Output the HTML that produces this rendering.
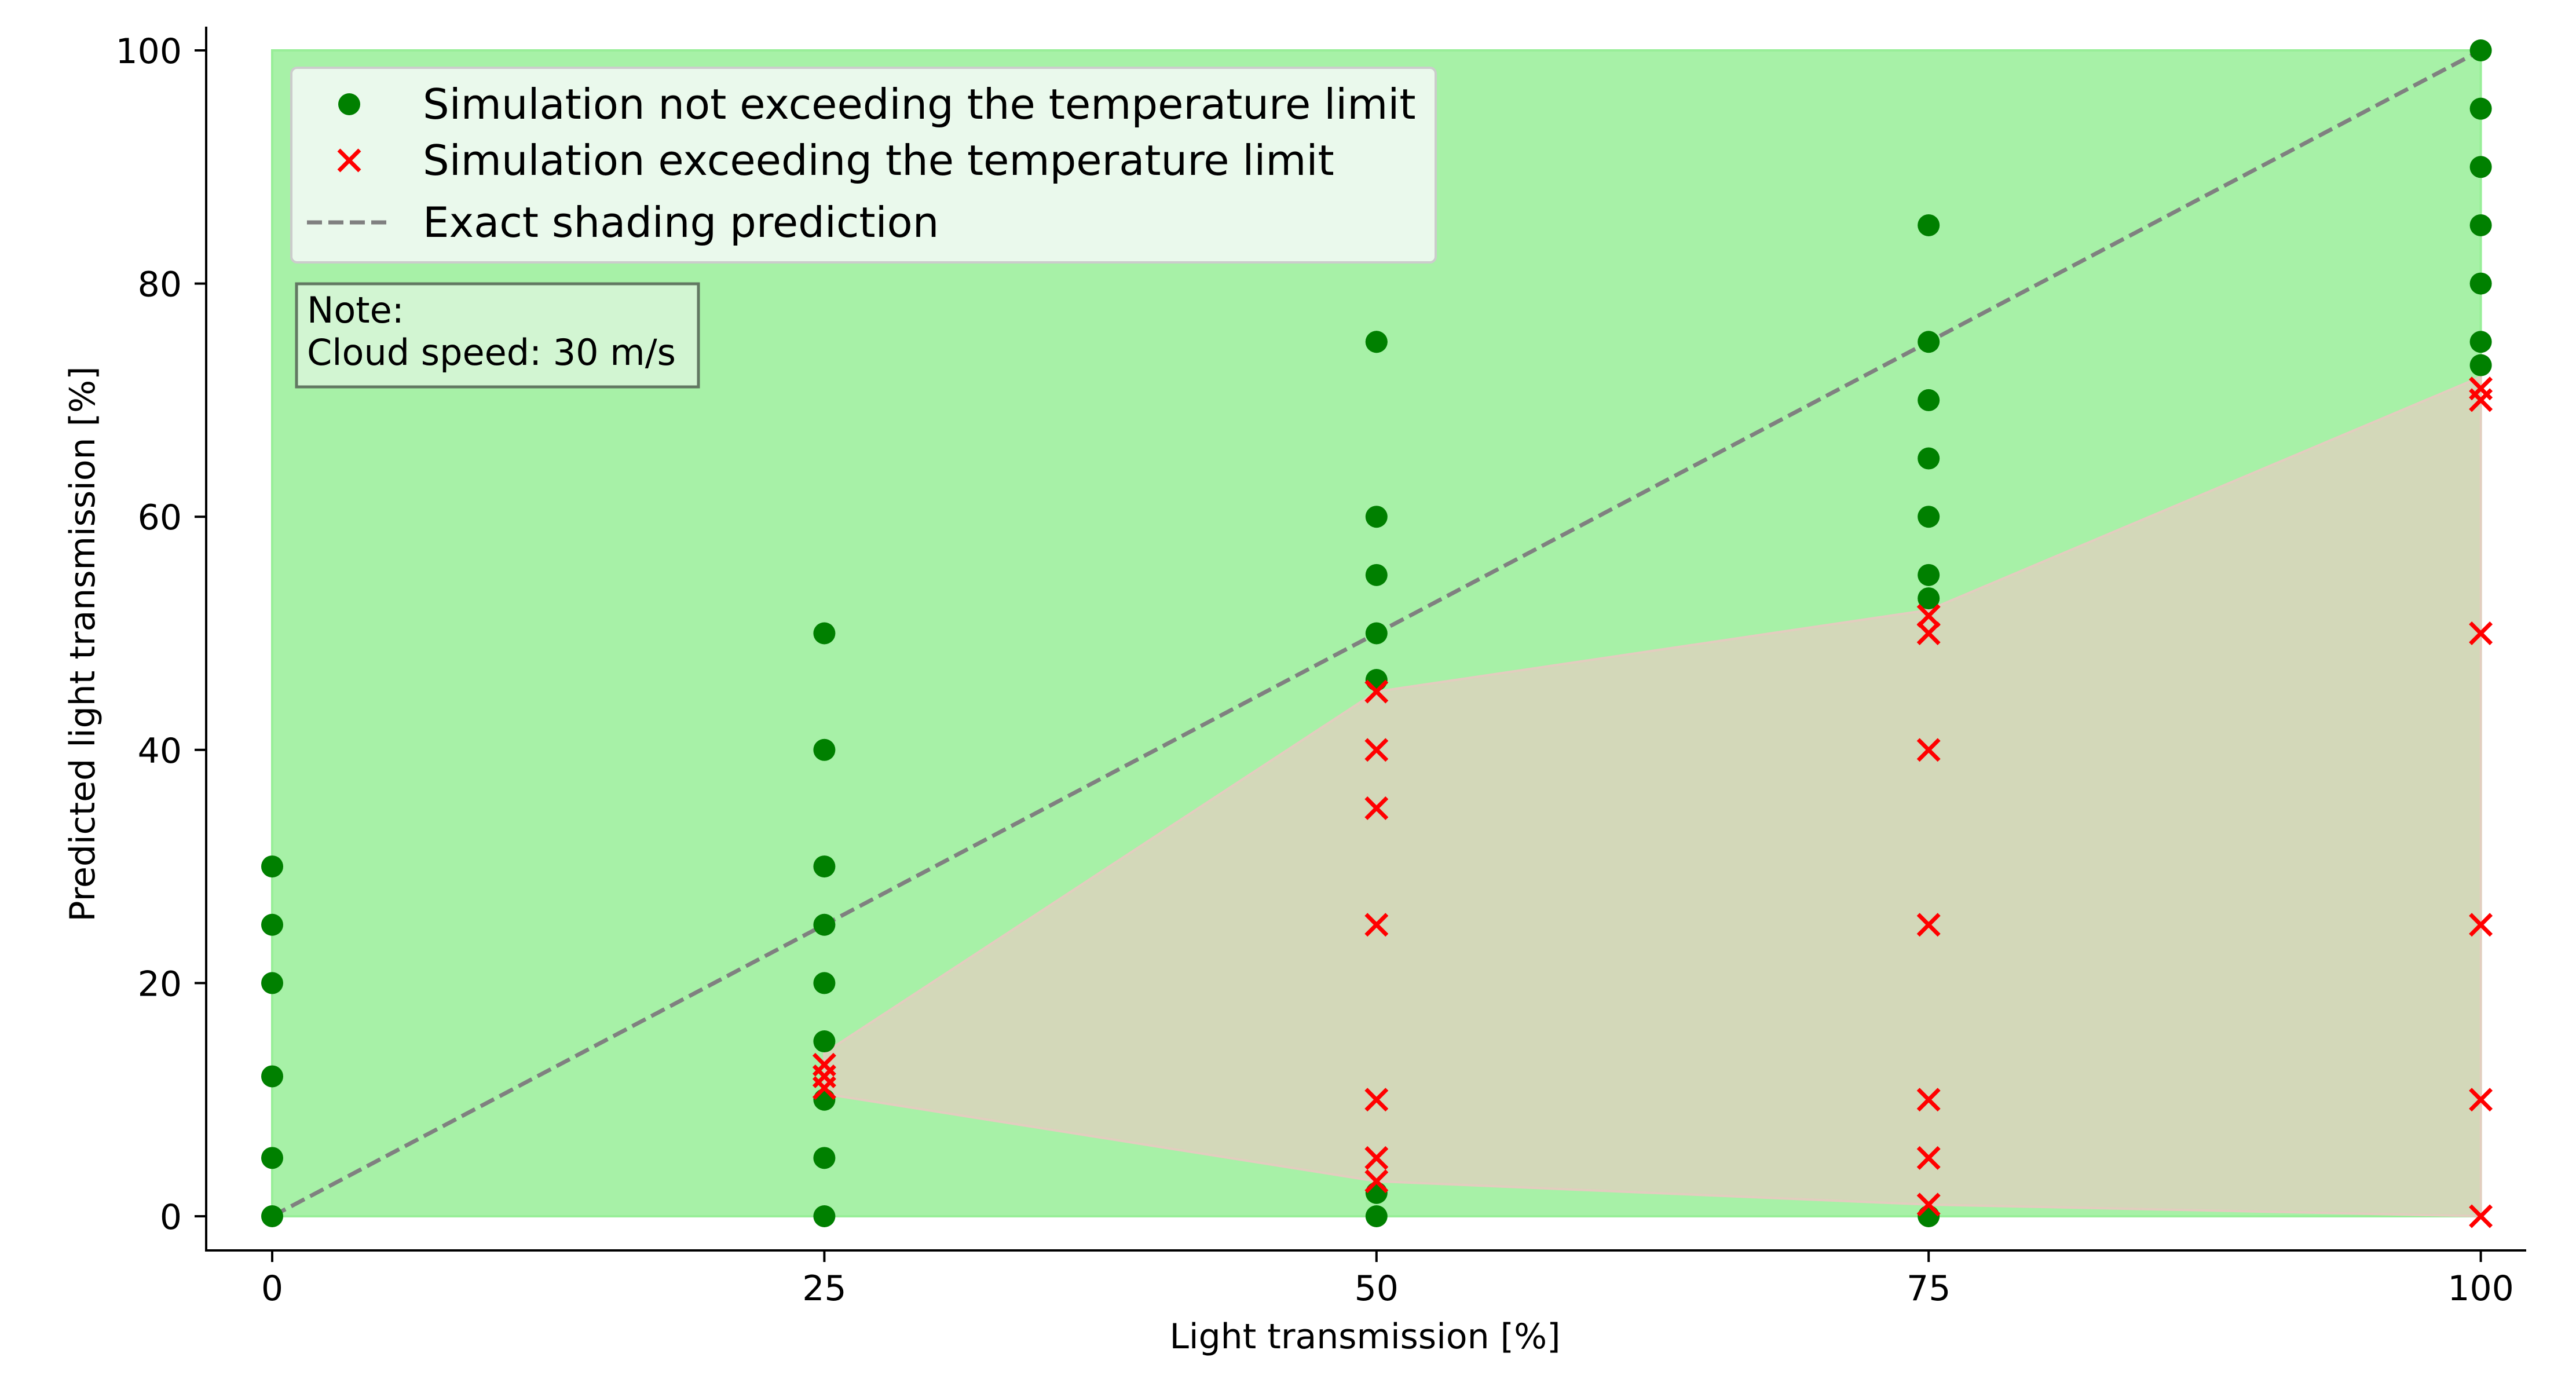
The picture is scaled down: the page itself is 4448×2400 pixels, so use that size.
<!DOCTYPE html>
<html><head><meta charset="utf-8"><style>
html,body{margin:0;padding:0;background:#fff;}
svg{display:block;font-family:"DejaVu Sans","Liberation Sans",sans-serif;}
</style></head><body>
<svg id="chart" width="4448" height="2400" viewBox="0 0 4448 2400" xmlns="http://www.w3.org/2000/svg">
<g id="plot"></g>
<g id="axes"></g>
<g id="legend">
  <rect x="503" y="117" width="1976" height="336" rx="10" fill="#eaf9ec" stroke="#cccccc" stroke-width="4"/>
  <circle cx="603" cy="180" r="19" fill="#008000"/>
  <text x="730" y="205" font-size="72" fill="#000">Simulation not exceeding the temperature limit</text>
  <path d="M585 259 L621 295 M621 259 L585 295" stroke="#ff0000" stroke-width="7"/>
  <text x="730" y="302" font-size="72" fill="#000">Simulation exceeding the temperature limit</text>
  <line x1="530" y1="384" x2="668" y2="384" stroke="#808080" stroke-width="7" stroke-dasharray="26,11"/>
  <text x="730" y="409" font-size="72" fill="#000">Exact shading prediction</text>
</g>
<g id="note">
  <rect x="512" y="490" width="694" height="178" fill="#d2f5d2" stroke="#627862" stroke-width="5"/>
  <text x="530" y="557" font-size="62" fill="#000">Note:</text>
  <text x="530" y="630" font-size="62" fill="#000">Cloud speed: 30 m/s</text>
</g>
</svg>
<script>
const xTicks = [0, 25, 50, 75, 100];
const yTicks = [0, 20, 40, 60, 80, 100];
const okX = [0,0,0,0,0,0, 25,25,25,25,25,25,25,25,25, 50,50,50,50,50,50,50,50, 75,75,75,75,75,75,75,75, 100,100,100,100,100,100,100];
const okY = [0,5,12,20,25,30, 0,5,10,15,20,25,30,40,50, 0,2,46,50,55,60,75, 75, 0,53,55,60,65,70,75,85, 73,75,80,85,90,95,100];
const exX = [25,25,25, 50,50,50,50,50,50,50, 75,75,75,75,75,75,75, 100,100,100,100,100,100];
const exY = [13,12,11, 3,5,10,25,35,40,45, 1,5,10,25,40,50,51.5, 0,10,25,50,70,71];
const bandX = [25, 50, 75, 100];
const bandUpper = [14, 45, 52, 72];
const bandLower = [10.5, 3, 1, 0];
const predX = [0, 100];
const predY = [0, 100];

const NS = "http://www.w3.org/2000/svg";
function sx(v){ return 470 + v * 38.136; }
function sy(v){ return 2100 - v * 20.13; }
function mk(tag, attrs, parent){ const e = document.createElementNS(NS, tag); for (const k in attrs) e.setAttribute(k, attrs[k]); parent.appendChild(e); return e; }
const plot = document.getElementById('plot');
const axes = document.getElementById('axes');

let e = mk('rect', {x: sx(0), y: sy(100), width: sx(100)-sx(0), height: sy(0)-sy(100), fill: '#a7f1a7', stroke: '#98ee98', 'stroke-width': 4}, plot);



let pts = [];
for (let i = 0; i < bandX.length; i++) pts.push(sx(bandX[i]) + ',' + sy(bandUpper[i]));
for (let i = bandX.length - 1; i >= 0; i--) pts.push(sx(bandX[i]) + ',' + sy(bandLower[i]));
e = mk('polygon', {points: pts.join(' '), fill: '#d3d8b9', stroke: '#e3cdbf', 'stroke-width': 4}, plot);



e = mk('line', {x1: sx(predX[0]), y1: sy(predY[0]), x2: sx(predX[1]), y2: sy(predY[1]), stroke: '#808080', 'stroke-width': 7, 'stroke-dasharray': '26,11'}, plot);



for (let i = 0; i < okX.length; i++) {
  e = mk('circle', {cx: sx(okX[i]), cy: sy(okY[i]), r: 19, fill: '#008000'}, plot);
  
  
}
for (let i = 0; i < exX.length; i++) {
  const cx = sx(exX[i]), cy = sy(exY[i]), d = 18;
  e = mk('path', {d: `M${cx-d} ${cy-d} L${cx+d} ${cy+d} M${cx+d} ${cy-d} L${cx-d} ${cy+d}`, stroke: '#ff0000', 'stroke-width': 7}, plot);
  
  
}

e = mk('line', {x1: 356, y1: 46, x2: 356, y2: 2161, stroke: '#000', 'stroke-width': 4}, axes);


e = mk('line', {x1: 354, y1: 2159, x2: 4362, y2: 2159, stroke: '#000', 'stroke-width': 4}, axes);



for (const t of xTicks) {
  e = mk('line', {x1: sx(t), y1: 2159, x2: sx(t), y2: 2179, stroke: '#000', 'stroke-width': 4}, axes);
  
  
  e = mk('text', {x: sx(t), y: 2245, 'font-size': 60, 'text-anchor': 'middle', fill: '#000'}, axes);
  e.textContent = String(t);
  
  
}
for (const t of yTicks) {
  e = mk('line', {x1: 336, y1: sy(t), x2: 356, y2: sy(t), stroke: '#000', 'stroke-width': 4}, axes);
  
  
  e = mk('text', {x: 314, y: sy(t) + 22, 'font-size': 60, 'text-anchor': 'end', fill: '#000'}, axes);
  e.textContent = String(t);
  
  
}
e = mk('text', {x: 2357, y: 2328, 'font-size': 60, 'text-anchor': 'middle', fill: '#000'}, axes);
e.textContent = 'Light transmission [%]';


e = mk('text', {x: 0, y: 0, 'font-size': 60, 'text-anchor': 'middle', fill: '#000', transform: 'translate(163,1112) rotate(-90)'}, axes);
e.textContent = 'Predicted light transmission [%]';


</script>
</body></html>
